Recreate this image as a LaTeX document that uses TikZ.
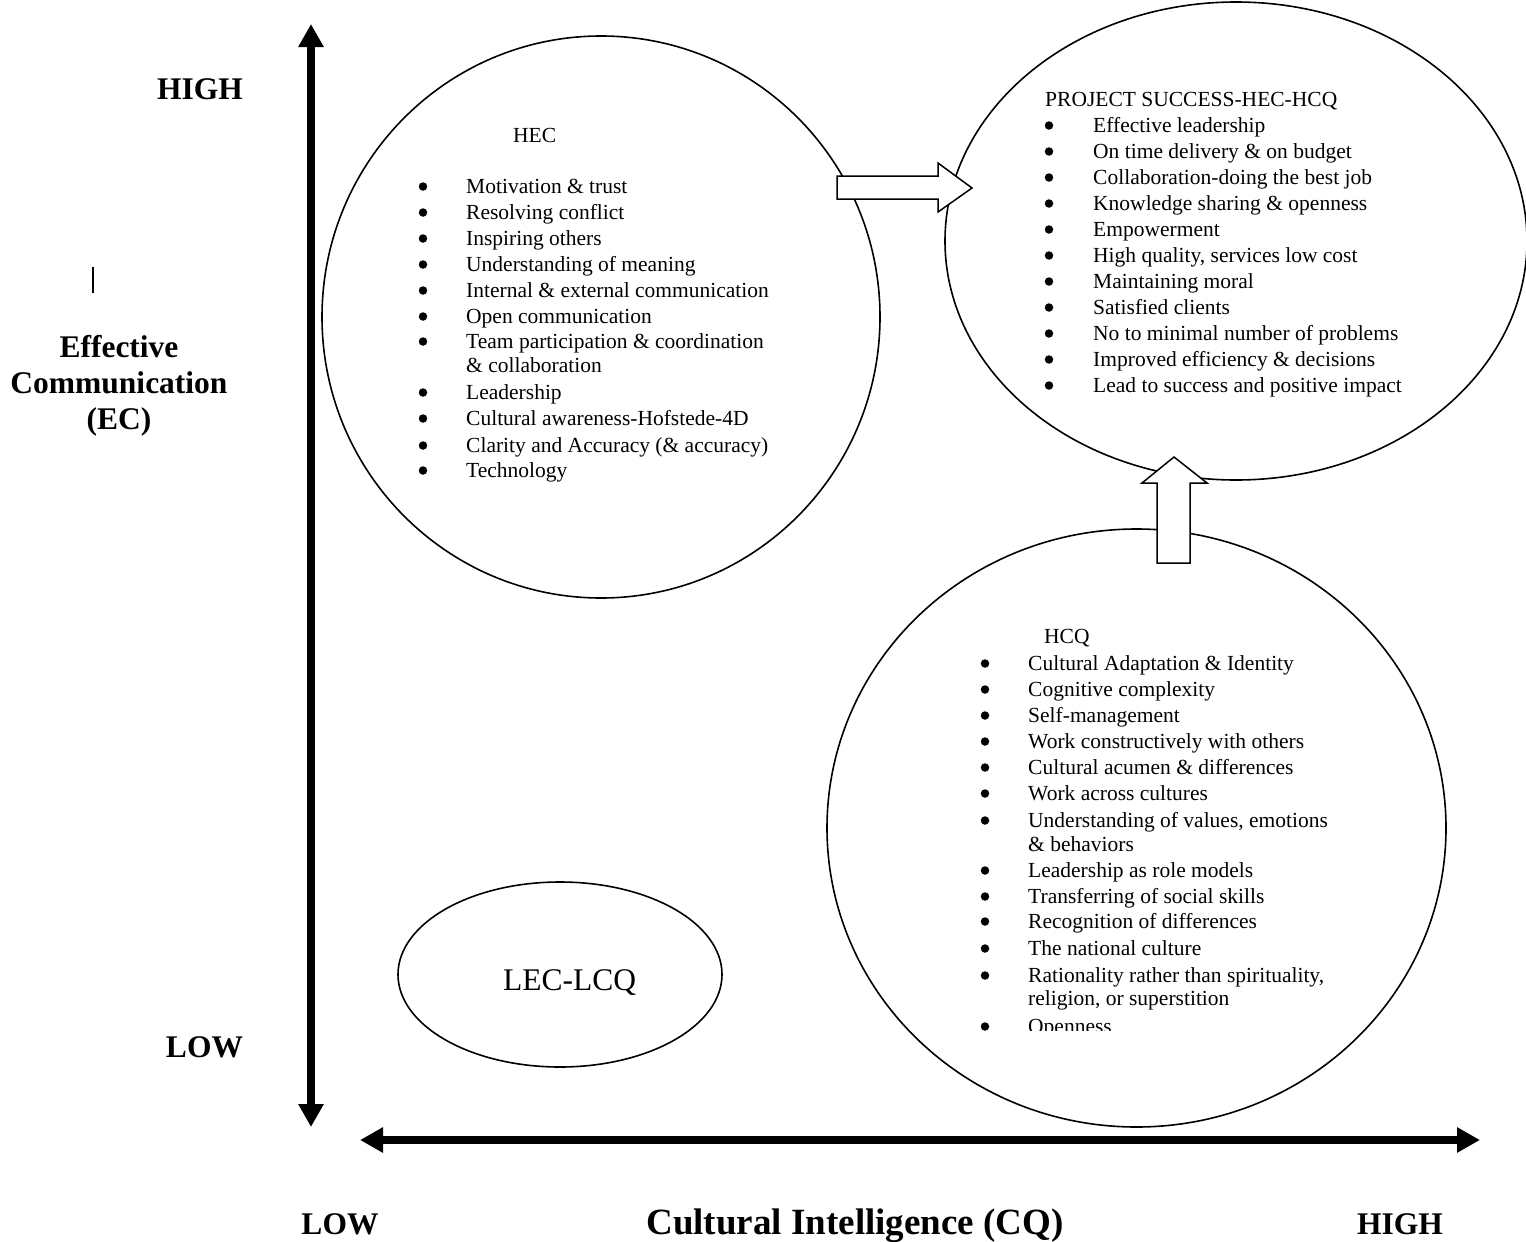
\documentclass[tikz,border=0pt]{standalone}
\usepackage{fontspec}
\setmainfont{Liberation Serif}
\usetikzlibrary{arrows.meta,shapes.geometric}
\begin{document}
\begin{tikzpicture}[x=1pt,y=-1pt,
  zone/.style={draw=black,line width=1.6pt,fill=white,ellipse,inner sep=0pt},
  axis/.style={line width=8pt,{Triangle[length=23pt,width=24pt]}-{Triangle[length=23pt,width=24pt]}},
  blockarrow/.style={draw=black,line width=1.5pt,fill=white,line join=miter},
  listtext/.style={anchor=base west,inner sep=0pt,font=\fontsize{21.5}{26}\selectfont},
  bulletdot/.style={circle,fill=black,inner sep=0pt,minimum size=8.5pt},
  axislabel/.style={anchor=base,inner sep=0pt,font=\fontsize{31.5}{36}\selectfont\bfseries},
]
\useasboundingbox (0,0) rectangle (1526,1242);

% axes
\coordinate (ytop) at (311,24);
\coordinate (ybot) at (311,1127);
\coordinate (xleft) at (360,1140);
\coordinate (xright) at (1480,1140);
\draw[axis] (ybot) -- (ytop);
\draw[axis] (xleft) -- (xright);
\draw[line width=2pt] (93,267) -- (93,293);

% axis labels
\node[axislabel] (yhigh) at (200,99) {HIGH};
\node[axislabel] (ylow) at (204.5,1057) {LOW};
\node[axislabel] (ytitle1) at (119,357) {Effective};
\node[axislabel] (ytitle2) at (119,393) {Communication};
\node[axislabel] (ytitle3) at (119,429) {(EC)};
\node[axislabel] (xlow) at (340,1234) {LOW};
\node[axislabel,font=\fontsize{37}{44}\selectfont\bfseries] (xtitle) at (855,1234) {Cultural Intelligence (CQ)};
\node[axislabel] (xhigh) at (1400,1234) {HIGH};

% zones
\node[zone,minimum width=558pt,minimum height=562pt] (hec) at (601,317) {};
\node[zone,minimum width=582pt,minimum height=478pt] (ps) at (1236,241) {};
\node[zone,minimum width=619pt,minimum height=598pt] (hcq) at (1136.5,828) {};
\node[zone,minimum width=324pt,minimum height=185pt] (low) at (560,974.5) {};
\node[anchor=base west,inner sep=0pt,font=\fontsize{31.5}{36}\selectfont] (lowtxt) at (503,990) {LEC-LCQ};

% HEC list
\node[listtext] (hectitle) at (513,142) {HEC};
\foreach \yy/\tx/\b in {193/Motivation \& trust/1, 219/Resolving conflict/1, 245/Inspiring others/1,
  271/Understanding of meaning/1, 297/Internal \& external communication/1, 323/Open communication/1,
  348/Team participation \& coordination/1, 372/\& collaboration/0, 399/Leadership/1,
  425/Cultural awareness-Hofstede-4D/1, 452/Clarity and Accuracy (\& accuracy)/1, 477/Technology/1}{
  \node[listtext] at (466,\yy) {\tx};
  \ifnum\b=1 \node[bulletdot] at (423,\yy-6.5) {};\fi
}

% project success list
\node[listtext] (pstitle) at (1045,106) {PROJECT SUCCESS-HEC-HCQ};
\foreach \tx [count=\i from 0] in {Effective leadership, On time delivery \& on budget,
  Collaboration-doing the best job, Knowledge sharing \& openness, Empowerment,
  {High quality, services low cost}, Maintaining moral, Satisfied clients,
  No to minimal number of problems, Improved efficiency \& decisions,
  Lead to success and positive impact}{
  \node[listtext] at (1093,132+26*\i) {\tx};
  \node[bulletdot] at (1049,132+26*\i-6.5) {};
}

% HCQ list
\node[listtext] (hcqtitle) at (1044,643) {HCQ};
\foreach \yy/\tx/\b in {670/Cultural Adaptation \& Identity/1, 696/Cognitive complexity/1,
  722/Self-management/1, 748/Work constructively with others/1, 774/Cultural acumen \& differences/1,
  800/Work across cultures/1, 827/{Understanding of values, emotions}/1, 851/\& behaviors/0,
  877/Leadership as role models/1, 903/Transferring of social skills/1, 928/Recognition of differences/1,
  955/The national culture/1, 982/{Rationality rather than spirituality,}/1, 1005/{religion, or superstition}/0}{
  \node[listtext] at (1028,\yy) {\tx};
  \ifnum\b=1 \node[bulletdot] at (985,\yy-6.5) {};\fi
}
\node[bulletdot] at (985,1033-6.5) {};
\begin{scope}
  \clip (1000,1000) rectangle (1300,1030.5);
  \node[listtext] (lastitem) at (1028,1033) {Openness};
\end{scope}

% block arrows between zones
\draw[blockarrow] (837,176) -- (938,176) -- (938,163) -- (972,188) -- (938,212) -- (938,199) -- (837,199) -- cycle;
\draw[blockarrow] (1157,563) -- (1157,483) -- (1142,483) -- (1174,457) -- (1207,483) -- (1190,483) -- (1190,563) -- cycle;
\end{tikzpicture}
\end{document}
